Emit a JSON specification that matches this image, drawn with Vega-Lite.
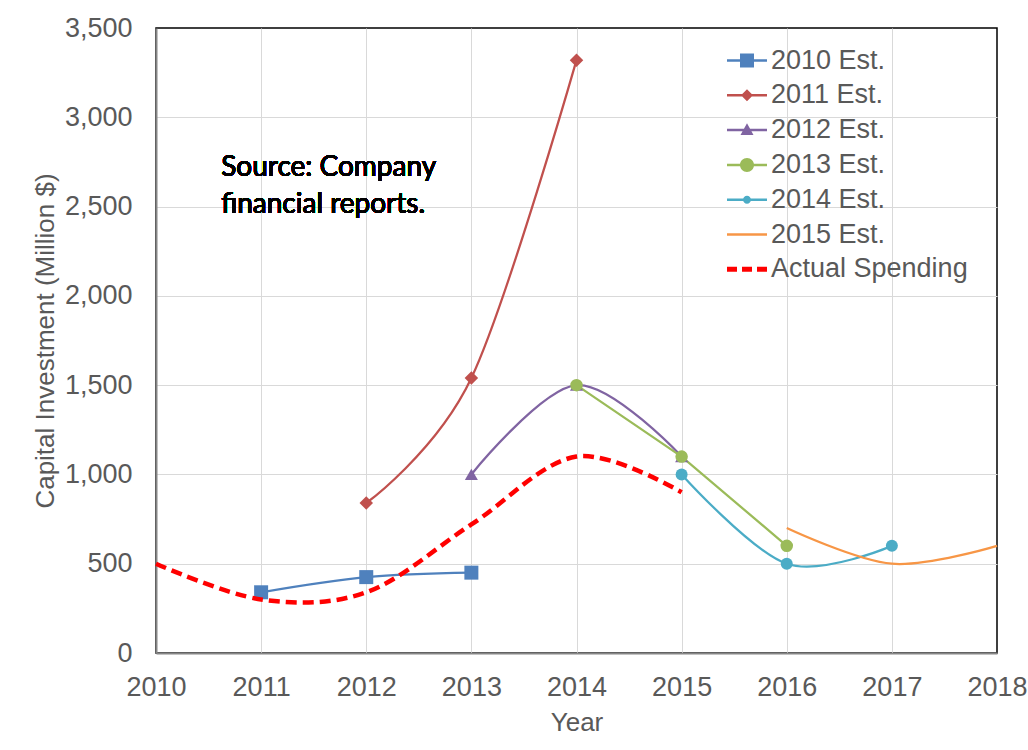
{
  "$schema": "https://vega.github.io/schema/vega-lite/v6.json",
  "width": 841,
  "height": 625,
  "autosize": {"type": "none"},
  "padding": {"left": 156, "top": 28, "right": 31, "bottom": 97},
  "background": "#ffffff",
  "config": {
    "view": {"stroke": "#000000", "strokeWidth": 1.5},
    "font": "Liberation Sans"
  },
  "data": {
    "values": [
      {"series": "2010 Est.", "year": 2011, "value": 340},
      {"series": "2010 Est.", "year": 2012, "value": 425},
      {"series": "2010 Est.", "year": 2013, "value": 450},
      {"series": "2011 Est.", "year": 2012, "value": 840},
      {"series": "2011 Est.", "year": 2013, "value": 1540},
      {"series": "2011 Est.", "year": 2014, "value": 3320},
      {"series": "2012 Est.", "year": 2013, "value": 1000},
      {"series": "2012 Est.", "year": 2014, "value": 1500},
      {"series": "2012 Est.", "year": 2015, "value": 1100},
      {"series": "2013 Est.", "year": 2014, "value": 1500},
      {"series": "2013 Est.", "year": 2015, "value": 1100},
      {"series": "2013 Est.", "year": 2016, "value": 600},
      {"series": "2014 Est.", "year": 2015, "value": 1000},
      {"series": "2014 Est.", "year": 2016, "value": 500},
      {"series": "2014 Est.", "year": 2017, "value": 600},
      {"series": "2015 Est.", "year": 2016, "value": 700},
      {"series": "2015 Est.", "year": 2017, "value": 500},
      {"series": "2015 Est.", "year": 2018, "value": 600},
      {"series": "Actual Spending", "year": 2010, "value": 500},
      {"series": "Actual Spending", "year": 2011, "value": 300},
      {"series": "Actual Spending", "year": 2012, "value": 340},
      {"series": "Actual Spending", "year": 2013, "value": 720},
      {"series": "Actual Spending", "year": 2014, "value": 1100},
      {"series": "Actual Spending", "year": 2015, "value": 900}
    ]
  },
  "encoding": {
    "x": {
      "field": "year", "type": "quantitative",
      "scale": {"domain": [2010, 2018], "nice": false, "zero": false},
      "axis": {
        "values": [2010, 2011, 2012, 2013, 2014, 2015, 2016, 2017, 2018],
        "format": "d", "labelFlush": false, "ticks": false,
        "grid": true, "gridColor": "#D9D9D9", "gridWidth": 1,
        "gridOpacity": {"condition": {"test": "datum.value === 2018 || datum.value === 2010", "value": 0}, "value": 1},
        "domainColor": "#868686", "domainWidth": 2,
        "labelFont": "Liberation Sans", "labelFontSize": 27, "labelColor": "#595959", "labelPadding": 21,
        "title": "Year", "titleFont": "Liberation Sans", "titleFontSize": 26, "titleFontWeight": "normal",
        "titleColor": "#595959", "titlePadding": 9
      }
    },
    "y": {
      "field": "value", "type": "quantitative",
      "scale": {"domain": [0, 3500], "nice": false},
      "axis": {
        "values": [0, 500, 1000, 1500, 2000, 2500, 3000, 3500],
        "format": ",d", "ticks": false,
        "grid": true, "gridColor": "#D9D9D9", "gridWidth": 1,
        "gridOpacity": {"condition": {"test": "datum.value === 3500 || datum.value === 0", "value": 0}, "value": 1},
        "domainColor": "#868686", "domainWidth": 2,
        "labelFont": "Liberation Sans", "labelFontSize": 27, "labelColor": "#595959", "labelPadding": 24,
        "title": "Capital Investment (Million $)", "titleFont": "Liberation Sans", "titleFontSize": 26,
        "titleFontWeight": "normal", "titleColor": "#595959", "titlePadding": 6
      }
    }
  },
  "layer": [
    {
      "transform": [{"filter": "datum.series !== '2013 Est.' && datum.series !== 'Actual Spending'"}],
      "mark": {"type": "line", "interpolate": "cardinal", "strokeWidth": 2.25},
      "encoding": {
        "color": {
          "field": "series", "type": "nominal",
          "scale": {
            "domain": ["2010 Est.", "2011 Est.", "2012 Est.", "2013 Est.", "2014 Est.", "2015 Est.", "Actual Spending"],
            "range": ["#4F81BD", "#C0504D", "#8064A2", "#9BBB59", "#4BACC6", "#F79646", "#FF0000"]
          },
          "legend": {
            "title": null, "orient": "none", "legendX": 574.5, "legendY": 16, "padding": 0,
            "symbolSize": 1089, "labelOffset": 7.5, "rowPadding": 4.8, "labelLimit": 400,
            "labelFont": "Liberation Sans", "labelFontSize": 27, "labelColor": "#595959",
            "encode": {
              "symbols": {
                "update": {
                  "shape": {"signal": "datum.value === '2010 Est.' ? 'M-1.212,-0.076H1.212V0.076H-1.212Z M-0.424,-0.424H0.424V0.424H-0.424Z' : datum.value === '2011 Est.' ? 'M-1.212,-0.076H1.212V0.076H-1.212Z M0,-0.364L0.364,0L0,0.364L-0.364,0Z' : datum.value === '2012 Est.' ? 'M-1.212,-0.076H1.212V0.076H-1.212Z M0,-0.42L0.394,0.3L-0.394,0.3Z' : datum.value === '2013 Est.' ? 'M-1.212,-0.076H1.212V0.076H-1.212Z M-0.424,0A0.424,0.424,0,1,1,0.424,0A0.424,0.424,0,1,1,-0.424,0Z' : datum.value === '2014 Est.' ? 'M-1.212,-0.076H1.212V0.076H-1.212Z M-0.242,0A0.242,0.242,0,1,1,0.242,0A0.242,0.242,0,1,1,-0.242,0Z' : datum.value === 'Actual Spending' ? 'M-1.212,-0.15H-0.606V0.15H-1.212Z M-0.303,-0.15H0.303V0.15H-0.303Z M0.606,-0.15H1.212V0.15H0.606Z' : 'M-1.212,-0.076H1.212V0.076H-1.212Z'"},
                  "fill": {"signal": "scale('color', datum.value)"},
                  "stroke": {"value": "transparent"},
                  "strokeWidth": {"value": 0},
                  "opacity": {"value": 1},
                  "fillOpacity": {"value": 1},
                  "size": {"value": 1089}
                }
              }
            }
          }
        }
      }
    },
    {
      "transform": [{"filter": "datum.series === '2013 Est.'"}],
      "mark": {"type": "line", "interpolate": "linear", "strokeWidth": 2.25},
      "encoding": {"color": {"field": "series", "type": "nominal"}}
    },
    {
      "transform": [{"filter": "datum.series !== '2015 Est.' && datum.series !== 'Actual Spending'"}],
      "mark": {"type": "point", "filled": true, "opacity": 1, "strokeWidth": 0},
      "encoding": {
        "color": {"field": "series", "type": "nominal"},
        "shape": {
          "field": "series", "type": "nominal",
          "scale": {"domain": ["2010 Est.", "2011 Est.", "2012 Est.", "2013 Est.", "2014 Est."], "range": ["square", "diamond", "triangle-up", "circle", "circle"]},
          "legend": null
        },
        "size": {
          "field": "series", "type": "nominal",
          "scale": {"domain": ["2010 Est.", "2011 Est.", "2012 Est.", "2013 Est.", "2014 Est."], "range": [196, 144, 169, 196, 64]},
          "legend": null
        }
      }
    },
    {
      "transform": [{"filter": "datum.series === 'Actual Spending'"}],
      "mark": {"type": "line", "interpolate": "cardinal", "strokeWidth": 4.5, "strokeDash": [11, 6]},
      "encoding": {"color": {"field": "series", "type": "nominal"}}
    },
    {
      "mark": {"type": "text", "font": "Lato", "fontSize": 28, "fontWeight": "normal", "fill": "#000000", "stroke": "transparent", "strokeWidth": 0, "align": "left", "baseline": "alphabetic", "lineHeight": 37},
      "encoding": {
        "x": {"datum": 2010.62, "type": "quantitative"},
        "y": {"datum": 2671, "type": "quantitative"},
        "text": {"value": ["Source: Company", "financial reports."]}
      }
    }
  ]
}
